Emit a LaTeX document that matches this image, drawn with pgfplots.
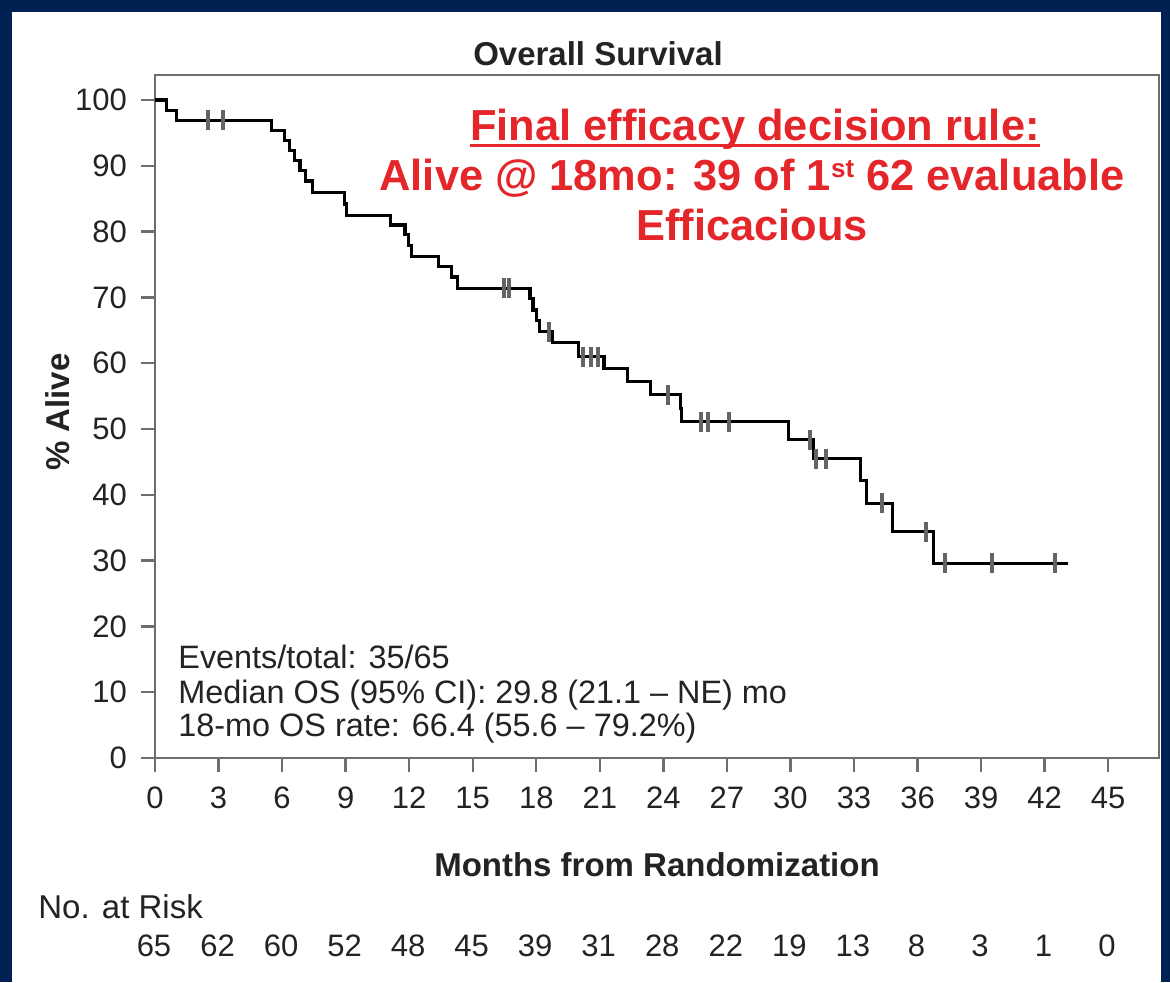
\documentclass[border=0pt]{standalone}
\usepackage{fontspec}
\setmainfont{Liberation Sans}
\usepackage{pgfplots}
\pgfplotsset{compat=1.18}
\definecolor{navy}{RGB}{0,33,82}
\definecolor{redtxt}{RGB}{228,38,42}
\definecolor{framegray}{RGB}{110,110,110}
\definecolor{txt}{RGB}{35,35,35}
\definecolor{censor}{RGB}{100,100,100}
\begin{document}
\begin{tikzpicture}
\begin{scope}[x=0.5pt,y=-0.5pt,shift={(-155,-758)}]
\useasboundingbox (0,0) rectangle (1170,982);
\fill[white] (0,0) rectangle (1170,982);
\fill[navy] (0,0) rectangle (1170,12);
\fill[navy] (0,0) rectangle (12,982);
\fill[navy] (1161,0) rectangle (1170,982);
\end{scope}
\begin{axis}[
  scale only axis, width=502pt, height=341.5pt,
  xmin=0, xmax=47.4, ymin=0, ymax=103.8,
  axis line style={framegray, line width=1.2pt},
  xtick={0,3,...,45}, ytick={0,10,...,100},
  xtick pos=bottom, ytick pos=left,
  tick align=outside, major tick length=7pt,
  tick style={framegray, line width=1.2pt},
  ticklabel style={font=\fontsize{15.5}{18}\selectfont, text=txt},
  xticklabel style={yshift=-4pt},
  yticklabel style={xshift=-3.5pt},
  /pgf/number format/assume math mode=true,
]
\addplot[const plot, black, line width=1.6pt] coordinates {
(0,100) (0.55,98.46) (1.0,96.92) (5.5,95.38) (6.1,93.85) (6.35,92.31)
(6.6,90.77) (6.85,89.23) (7.1,87.69) (7.45,86.0) (8.95,84.2) (9.05,82.5)
(11.1,81.0) (11.8,79.5) (11.95,77.9) (12.1,76.2) (13.4,74.7) (14.0,73.1)
(14.3,71.4) (17.7,69.8) (17.85,68.1) (18.0,66.5) (18.15,64.8) (18.75,63.1)
(20.0,61.0) (21.2,59.2) (22.3,57.2) (23.4,55.2) (24.8,53.1) (24.85,51.1)
(29.9,48.4) (31.1,45.5) (33.3,42.2) (33.6,38.7) (34.8,34.4) (36.75,29.6)
(43.1,29.6)};
\addplot[only marks, mark=|, mark size=5pt, mark options={line width=2pt, draw=censor}] coordinates {
(2.5,96.92) (3.2,96.92) (16.5,71.4) (16.7,71.4) (18.6,64.8) (20.2,61.0)
(20.6,61.0) (20.9,61.0) (24.2,55.2) (25.8,51.1) (26.1,51.1) (27.1,51.1)
(30.9,48.4) (31.2,45.5) (31.7,45.5) (34.3,38.7) (36.4,34.4) (37.3,29.6)
(39.5,29.6) (42.5,29.6)};
\end{axis}
\begin{scope}[x=0.5pt,y=-0.5pt,shift={(-155,-758)}]
\node[anchor=base, font=\bfseries\fontsize{16.5}{19}\selectfont, text=txt] at (598,66) {Overall Survival};
\node[rotate=90, font=\bfseries\fontsize{16.5}{19}\selectfont, text=txt] at (58,412) {\% Alive};
\node[anchor=base, font=\bfseries\fontsize{16.5}{19}\selectfont, text=txt] at (657,876) {Months from Randomization};
\node[anchor=base west, inner sep=0pt, font=\fontsize{16.5}{19}\selectfont, text=txt] at (38,918) {No. at Risk};
\foreach \n [count=\i from 0] in {65,62,60,52,48,45,39,31,28,22,19,13,8,3,1,0}{
  \node[anchor=base, font=\fontsize{15.5}{18}\selectfont, text=txt] at ({154+63.53*\i},956) {\n};
}
\begin{scope}[every node/.style={anchor=base west, inner sep=0pt, font=\fontsize{16.2}{19}\selectfont, text=txt}]
\node at (178,668) {Events/total: 35/65};
\node at (178,703) {Median OS (95\% CI): 29.8 (21.1 -- NE) mo};
\node at (178,736) {18-mo OS rate: 66.4 (55.6 -- 79.2\%)};
\end{scope}
\begin{scope}[every node/.style={anchor=base, inner sep=0pt, font=\bfseries\fontsize{21.7}{26}\selectfont, text=redtxt}]
\node (l1) at (755,140) {Final efficacy decision rule:};
\node at (752,190) {Alive @ 18mo: 39 of 1{\fontsize{13}{15}\selectfont\raisebox{0.5em}{st}} 62 evaluable};
\node at (752,240) {Efficacious};
\end{scope}
\draw[redtxt, line width=1.5pt] ([yshift=-2.8pt]l1.base west) -- ([yshift=-2.8pt]l1.base east);
\end{scope}
\end{tikzpicture}
\end{document}
